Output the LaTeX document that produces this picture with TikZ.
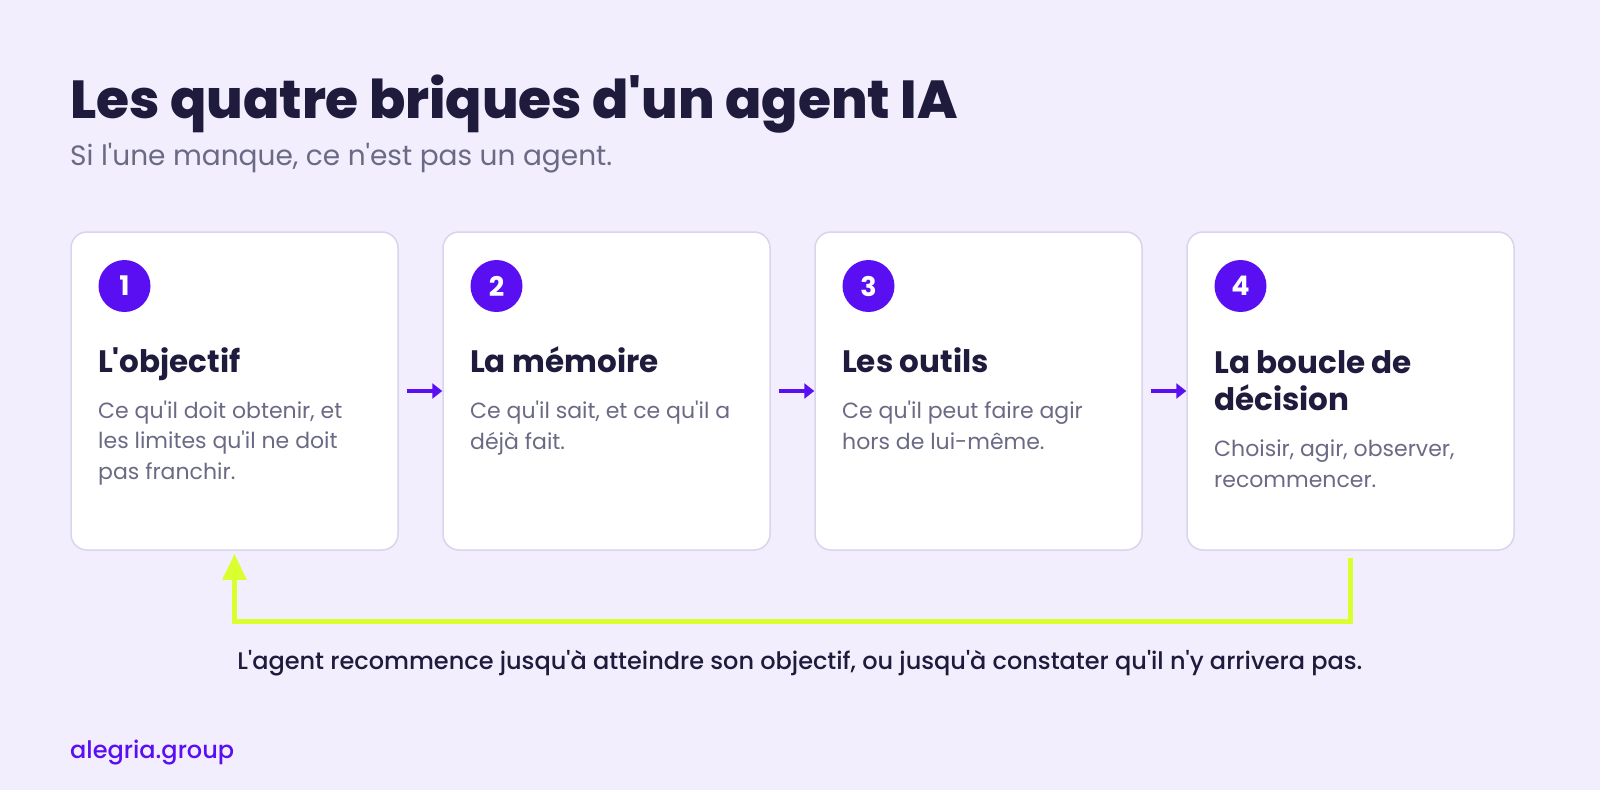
\documentclass[tikz,border=0pt]{standalone}
\usepackage{fontspec}
\setmainfont{Poppins}[Ligatures=TeXOff]
\IfFontExistsTF{Poppins ExtraBold}{\newfontfamily\heavyfont{Poppins ExtraBold}[Ligatures=TeXOff]}{\newfontfamily\heavyfont{Poppins Bold}[Ligatures=TeXOff]}
\IfFontExistsTF{Poppins Medium}{\newfontfamily\medfont{Poppins Medium}[Ligatures=TeXOff]}{\newfontfamily\medfont{Poppins}[Ligatures=TeXOff]}
\usetikzlibrary{arrows.meta}
\definecolor{bgcol}{HTML}{F2EEFD}
\definecolor{cardline}{HTML}{D8D5EC}
\definecolor{brandpurple}{HTML}{5A0EF2}
\definecolor{ink}{HTML}{1F1B3D}
\definecolor{muted}{HTML}{6B6A85}
\definecolor{lime}{HTML}{D9FF2E}
\tikzset{
  card/.style={draw=cardline, line width=1.5pt, fill=white, rounded corners=16pt, minimum width=327pt, minimum height=318pt, inner sep=0pt},
  badge/.style={circle, fill=brandpurple, minimum size=52pt, inner sep=0pt, text=white, font=\fontsize{27}{27}\selectfont\bfseries},
  cardtitle/.style={anchor=base west, align=left, inner sep=0pt, text=ink, font=\fontsize{31}{37}\selectfont\bfseries},
  carddesc/.style={anchor=base west, align=left, inner sep=0pt, text=muted, font=\fontsize{22}{30.5}\selectfont},
  flowarrow/.style={draw=brandpurple, line width=4pt, -{Triangle[length=10pt,width=15pt]}},
  looparrow/.style={draw=lime, line width=5pt, -{Triangle[length=26pt,width=23pt]}}
}
\begin{document}
\begin{tikzpicture}[x=1pt, y=-1pt]
\fill[bgcol] (0,0) rectangle (1600,790);
\useasboundingbox (0,0) rectangle (1600,790);
\node[anchor=base west, inner sep=0pt, text=ink, font=\fontsize{53.5}{60}\selectfont\heavyfont] (title) at (70,118) {Les quatre briques d'un agent IA};
\node[anchor=base west, inner sep=0pt, text=muted, font=\fontsize{28}{32}\selectfont] (subtitle) at (70,165) {Si l'une manque, ce n'est pas un agent.};
\node[card] (card1) at (234.5,391) {};
\node[card] (card2) at (606.5,391) {};
\node[card] (card3) at (978.5,391) {};
\node[card] (card4) at (1350.5,391) {};
\node[badge] (num1) at (124.5,286) {1};
\node[badge] (num2) at (496.5,286) {2};
\node[badge] (num3) at (868.5,286) {3};
\node[badge] (num4) at (1240.5,286) {4};
\node[cardtitle] (head1) at (98,372) {L'objectif};
\node[cardtitle] (head2) at (470,372) {La mémoire};
\node[cardtitle] (head3) at (842,372) {Les outils};
\node[cardtitle] (head4) at (1214,410) {La boucle de\\décision};
\node[carddesc] (text1) at (98,479) {Ce qu'il doit obtenir, et\\les limites qu'il ne doit\\pas franchir.};
\node[carddesc] (text2) at (470,449) {Ce qu'il sait, et ce qu'il a\\déjà fait.};
\node[carddesc] (text3) at (842,449) {Ce qu'il peut faire agir\\hors de lui-même.};
\node[carddesc] (text4) at (1214,487) {Choisir, agir, observer,\\recommencer.};
\draw[flowarrow] ([xshift=8pt]card1.east) -- (card2.west);
\draw[flowarrow] ([xshift=8pt]card2.east) -- (card3.west);
\draw[flowarrow] ([xshift=8pt]card3.east) -- (card4.west);
\coordinate (loopR) at (1350.5,621);
\coordinate (loopL) at (234.5,621);
\draw[looparrow] ([yshift=-7pt]card4.south) -- (loopR) -- (loopL) -- ([yshift=-3pt]card1.south);
\node[anchor=base, inner sep=0pt, text=ink, font=\fontsize{24}{28}\selectfont\medfont] (note) at (800,669) {L'agent recommence jusqu'à atteindre son objectif, ou jusqu'à constater qu'il n'y arrivera pas.};
\node[anchor=base west, inner sep=0pt, text=brandpurple, font=\fontsize{24}{28}\selectfont\medfont] (brand) at (70,758) {alegria.group};
\end{tikzpicture}
\end{document}
